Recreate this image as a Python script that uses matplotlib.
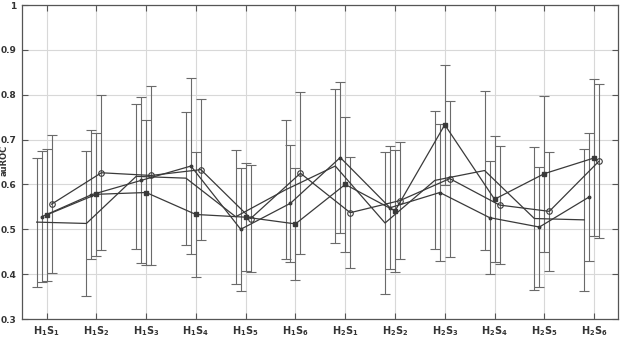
import matplotlib
matplotlib.use("Agg")
import matplotlib.pyplot as plt
import numpy as np

categories = ["H_1S_1", "H_1S_2", "H_1S_3", "H_1S_4", "H_1S_5", "H_1S_6",
              "H_2S_1", "H_2S_2", "H_2S_3", "H_2S_4", "H_2S_5", "H_2S_6"]

series_a = [0.516, 0.513, 0.618, 0.614, 0.528, 0.588, 0.641, 0.514, 0.609, 0.631, 0.524, 0.521]
err_a    = [0.144, 0.161, 0.162, 0.148, 0.149, 0.155, 0.171, 0.158, 0.154, 0.178, 0.160, 0.159]

series_b = [0.528, 0.577, 0.609, 0.641, 0.500, 0.558, 0.660, 0.548, 0.582, 0.526, 0.505, 0.572]
err_b    = [0.146, 0.144, 0.185, 0.197, 0.137, 0.130, 0.168, 0.137, 0.152, 0.126, 0.133, 0.142]

series_c = [0.532, 0.578, 0.582, 0.533, 0.527, 0.512, 0.600, 0.541, 0.733, 0.567, 0.624, 0.659]
err_c    = [0.147, 0.137, 0.161, 0.139, 0.121, 0.124, 0.150, 0.136, 0.134, 0.141, 0.174, 0.175]

series_d = [0.556, 0.626, 0.620, 0.633, 0.524, 0.625, 0.537, 0.564, 0.613, 0.554, 0.540, 0.652]
err_d    = [0.154, 0.173, 0.200, 0.157, 0.119, 0.180, 0.124, 0.131, 0.174, 0.132, 0.133, 0.172]

offsets = [-0.2, -0.1, 0.0, 0.1]
markers = [None, ".", "s", "o"]

fig = plt.figure(figsize=(6.29, 3.38), dpi=100)
ax = fig.add_axes([0.0345, 0.0562, 0.948, 0.929])

x = np.arange(1, len(categories) + 1)
line_col = "#3a3a3a"
err_col = "#6a6a6a"

for vals, errs, off, mk in zip([series_a, series_b, series_c, series_d],
                               [err_a, err_b, err_c, err_d], offsets, markers):
    xs = x + off
    ax.errorbar(xs, vals, yerr=errs, fmt="none", ecolor=err_col, elinewidth=0.8,
                capsize=3.8, capthick=0.8, zorder=2)
    if mk is None:
        ax.plot(xs, vals, color=line_col, lw=0.9, zorder=3)
    elif mk == "o":
        ax.plot(xs, vals, color=line_col, lw=0.9, marker="o", ms=4,
                mfc="none", mec=line_col, mew=0.8, zorder=3)
    elif mk == "s":
        ax.plot(xs, vals, color=line_col, lw=0.9, marker="s", ms=2.5,
                mfc=line_col, mec=line_col, zorder=3)
    else:
        ax.plot(xs, vals, color=line_col, lw=0.9, marker="o", ms=1.8,
                mfc=line_col, mec=line_col, zorder=3)

ax.set_xlim(0.5, 12.48)
ax.set_ylim(0.3, 1.0)
ax.set_xticks(x)
ax.set_xticklabels([r"$\mathbf{%s}$" % c for c in categories], fontsize=7)
yt = [0.3, 0.4, 0.5, 0.6, 0.7, 0.8, 0.9, 1.0]
ax.set_yticks(yt)
ax.set_yticklabels(["0.3", "0.4", "0.5", "0.6", "0.7", "0.8", "0.9", "1"],
                   fontsize=6.5, fontweight="bold", color="#333333")
ax.grid(True, color="#d8d8d8", lw=0.8)
ax.set_axisbelow(True)
ax.tick_params(direction="in", top=True, right=True, length=4, width=0.8,
               colors="#555555", labelcolor="#333333", pad=4)
for s in ax.spines.values():
    s.set_color("#555555")
    s.set_linewidth(0.9)

fig.text(0.006, 0.525, "auROC", rotation=90, fontsize=6, fontweight="bold",
         color="#333333", ha="center", va="center")

fig.savefig("out.png", dpi=100)
